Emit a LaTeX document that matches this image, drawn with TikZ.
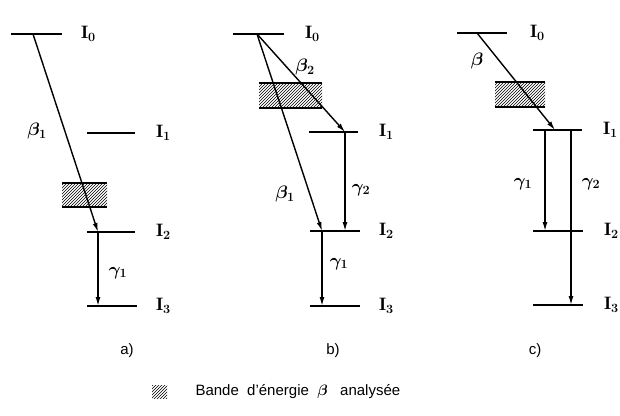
\documentclass[tikz,border=0pt]{standalone}
\usepackage{fix-cm}
\usepackage{fontspec}
\setsansfont{Liberation Sans}
\usetikzlibrary{arrows.meta, patterns}

\begin{document}
\begin{tikzpicture}[x=1pt, y=-1pt,
  every node/.style={font=\fontsize{18}{20}\selectfont\boldmath},
  lvl/.style={line width=2pt},
  trans/.style={-{Latex[length=9pt,width=5pt]}, line width=1.4pt},
  band/.style={pattern=north east lines},
  bandedge/.style={line width=1.1pt},
  lab/.style={anchor=west, inner sep=0pt},
  paneltag/.style={font=\sffamily\fontsize{15}{17}\selectfont\boldmath}
]
\useasboundingbox (0,0) rectangle (620,415);

% a)
\fill[band] (62,183) rectangle (107,207);
\draw[bandedge] (62,183) -- (107,183) (62,207) -- (107,207);
\draw[lvl] (11,34) -- (62,34) node[lab, xshift=18pt] (a-l0) {$\mathrm{I}_0$};
\draw[lvl] (87,133) -- (135,133) node[lab, xshift=20pt] (a-l1) {$\mathrm{I}_1$};
\draw[lvl] (87,232) -- (135,232) node[lab, xshift=20pt] (a-l2) {$\mathrm{I}_2$};
\draw[lvl] (87,306) -- (137,306) node[lab, xshift=18pt] (a-l3) {$\mathrm{I}_3$};
\coordinate (a0) at (33,34);
\coordinate (a2) at (98,232);
\coordinate (a3) at (98,306);
\draw[trans] (a0) -- (a2);
\draw[trans] (a2) -- (a3);
\node (a-b1) at (37,131) {$\beta_1$};
\node (a-g1) at (118,273) {$\gamma_1$};
\node[paneltag] (a-tag) at (127,351) {a)};

% b)
\fill[band] (259,83) rectangle (322,108);
\draw[bandedge] (259,83) -- (322,83) (259,108) -- (322,108);
\draw[lvl] (233,34) -- (284,34) node[lab, xshift=20pt] (b-l0) {$\mathrm{I}_0$};
\draw[lvl] (309,132) -- (358,132) node[lab, xshift=20pt] (b-l1) {$\mathrm{I}_1$};
\draw[lvl] (310,231) -- (360,231) node[lab, xshift=18pt] (b-l2) {$\mathrm{I}_2$};
\draw[lvl] (310,306) -- (360,306) node[lab, xshift=18pt] (b-l3) {$\mathrm{I}_3$};
\coordinate (b0) at (257,34);
\coordinate (b1) at (345,132);
\coordinate (b2) at (322,231);
\coordinate (b2r) at (345,231);
\coordinate (b3) at (322,306);
\draw[trans] (b0) -- (b1);
\draw[trans] (b0) -- (b2);
\draw[trans] (b1) -- (b2r);
\draw[trans] (b2) -- (b3);
\node (b-b2) at (305,67) {$\beta_2$};
\node (b-b1) at (285,194) {$\beta_1$};
\node (b-g2) at (361,190) {$\gamma_2$};
\node (b-g1) at (339,264) {$\gamma_1$};
\node[paneltag] (b-tag) at (333,351) {b)};

% c)
\fill[band] (495,82) rectangle (545,107);
\draw[bandedge] (495,82) -- (545,82) (495,107) -- (545,107);
\draw[lvl] (457,33) -- (507,33) node[lab, xshift=22pt] (c-l0) {$\mathrm{I}_0$};
\draw[lvl] (533,130) -- (582,130) node[lab, xshift=20pt] (c-l1) {$\mathrm{I}_1$};
\draw[lvl] (533,231) -- (583,231) node[lab, xshift=20pt] (c-l2) {$\mathrm{I}_2$};
\draw[lvl] (533,305) -- (583,305) node[lab, xshift=20pt] (c-l3) {$\mathrm{I}_3$};
\coordinate (c0) at (477,33);
\coordinate (c1) at (555,130);
\coordinate (c1l) at (545,130);
\coordinate (c1r) at (571,130);
\coordinate (c2) at (545,231);
\coordinate (c3) at (571,305);
\draw[trans] (c0) -- (c1);
\draw[trans] (c1l) -- (c2);
\draw[trans] (c1r) -- (c3);
\node (c-b) at (477,61) {$\beta$};
\node (c-g1) at (523,184) {$\gamma_1$};
\node (c-g2) at (591,184) {$\gamma_2$};
\node[paneltag] (c-tag) at (535,351) {c)};

% legende
\fill[band] (152,385) rectangle (167,398);
\node[paneltag, anchor=west] (leg) at (192,392) {Bande\ \ d'énergie\ \ $\beta$\ \ \ analysée};
\end{tikzpicture}
\end{document}
